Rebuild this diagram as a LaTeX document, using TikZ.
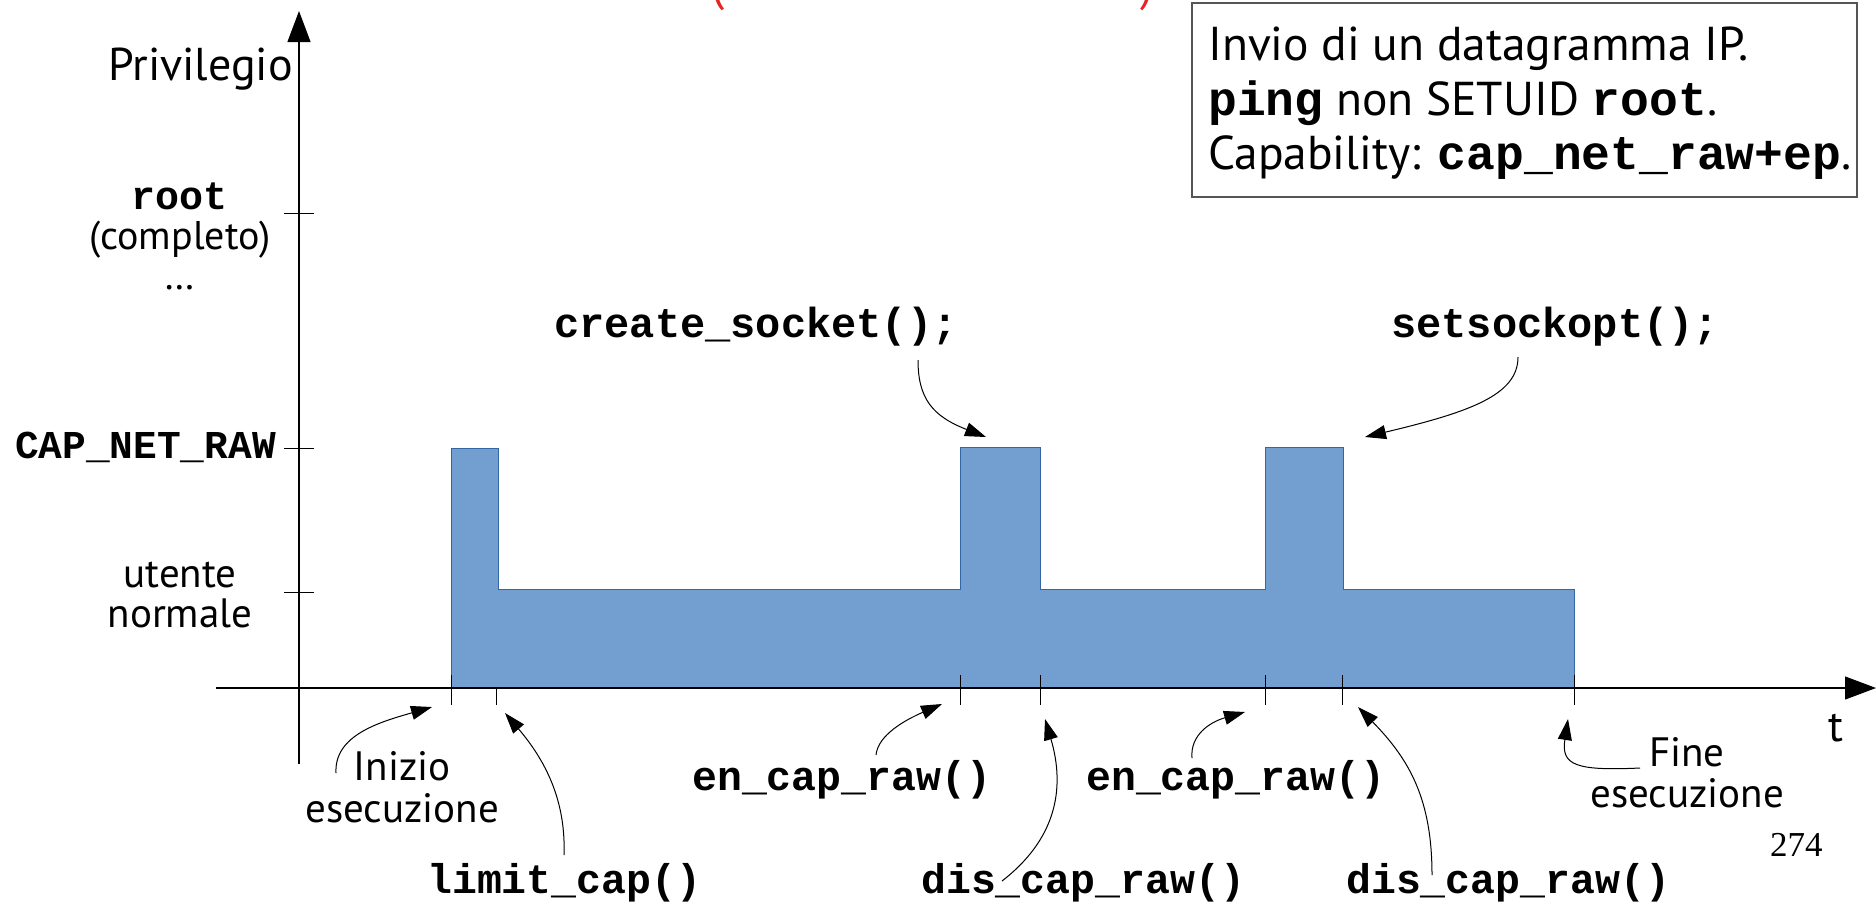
\documentclass[tikz,border=0pt]{standalone}
\usepackage{fontspec}
\usetikzlibrary{arrows.meta}
\newfontfamily\labfont{PT Sans}
\newfontfamily\codefont{Liberation Mono}
\newfontfamily\numfont{Liberation Serif}
\definecolor{barfill}{HTML}{729FCF}
\definecolor{baredge}{HTML}{3465A4}
\definecolor{boxedge}{HTML}{555555}
\definecolor{headred}{HTML}{E52521}
\newcommand{\boxcode}[1]{{\fontsize{48}{48}\codefont\bfseries #1}}
\begin{document}
\begin{tikzpicture}[x=1pt,y=-1pt,
  lab/.style={font=\fontsize{41}{41}\labfont, inner sep=0pt},
  code/.style={font=\fontsize{41.5}{41.5}\codefont\bfseries, inner sep=0pt},
  boxline/.style={font=\fontsize{47.5}{47.5}\labfont, inner sep=0pt, anchor=base west},
  callout/.style={-{Triangle[length=21pt,width=14pt]}, line width=1pt},
  axis/.style={-{Triangle[length=31pt,width=23pt]}, line width=1.2pt},
  axtick/.style={line width=1pt}]
\useasboundingbox (0,0) rectangle (1876,906);
\clip (0,0) rectangle (1876,906);

% heading above the page, only its lower part is inside
\node[anchor=base, inner sep=0pt, text=headred, font=\fontsize{47}{47}\labfont] (hl) at (718,0) {(};
\node[anchor=base, inner sep=0pt, text=headred, font=\fontsize{47}{47}\labfont] (hr) at (1147,0) {)};

% privilege profile over time
\fill[barfill, draw=baredge, line width=1pt]
  (451,688) -- (451,448) -- (498,448) -- (498,589) -- (960,589) -- (960,447)
  -- (1040,447) -- (1040,589) -- (1265,589) -- (1265,447) -- (1343,447)
  -- (1343,589) -- (1574,589) -- (1574,688) -- cycle;

% axes
\coordinate (yb) at (299,764);
\coordinate (yt) at (299,11);
\coordinate (xl) at (216,688);
\coordinate (xr) at (1876,688);
\draw[axis] (yb) -- (yt);
\draw[axis] (xl) -- (xr);

% ticks on the privilege axis
\foreach \y/\n in {213/root, 448/cap, 592/user}
  \draw[axtick] (284,\y) coordinate (ty\n) -- (314,\y);

% ticks on the time axis
\foreach \x/\n in {451/start, 960/enA, 1040/disA, 1265/enB, 1342/disB, 1574/stop}
  \draw[axtick] (\x,675) -- (\x,705) coordinate (tx\n);
\draw[axtick] (496,689) -- (496,705) coordinate (txlim);

% privilege levels
\node[lab, font=\fontsize{46}{46}\labfont, anchor=base east] (priv) at (293,80) {Privilegio};
\node[code, font=\fontsize{40}{40}\codefont\bfseries, anchor=base] (root) at (180,209) {root};
\node[lab, font=\fontsize{40}{40}\labfont, anchor=base] (compl) at (180,249) {(completo)};
\node[lab, font=\fontsize{40}{40}\labfont, anchor=base] (dots) at (180,289) {…};
\node[code, font=\fontsize{39.5}{39.5}\codefont\bfseries, anchor=base east] (capnr) at (276,458) {CAP\_NET\_RAW};
\node[lab, anchor=base] (ut1) at (180,587) {utente};
\node[lab, anchor=base] (ut2) at (180,627) {normale};
\node[lab, font=\fontsize{44}{44}\labfont, anchor=base west] (tlab) at (1828,741) {t};

% description box
\draw[boxedge, line width=1.5pt] (1192,3) rectangle (1857,197);
\node[boxline] (d1) at (1208,60) {Invio di un datagramma IP.};
\node[boxline] (d2) at (1208,115) {\boxcode{ping} non SETUID \boxcode{root}.};
\node[boxline] (d3) at (1208,169) {Capability: \boxcode{cap\_net\_raw+ep}.};

% system calls and events
\node[code, font=\fontsize{42}{42}\codefont\bfseries, anchor=base west] (sock) at (554,337) {create\_socket();};
\node[code, font=\fontsize{42}{42}\codefont\bfseries, anchor=base west] (sopt) at (1391,337) {setsockopt();};
\node[code, anchor=base west] (enA) at (692,790) {en\_cap\_raw()};
\node[code, anchor=base west] (enB) at (1086,790) {en\_cap\_raw()};
\node[code, anchor=base west] (lim) at (427,893) {limit\_cap()};
\node[code, anchor=base west] (disA) at (921,893) {dis\_cap\_raw()};
\node[code, anchor=base west] (disB) at (1346,893) {dis\_cap\_raw()};
\node[lab, anchor=base] (ini1) at (402,780) {Inizio};
\node[lab, anchor=base] (ini2) at (402,822) {esecuzione};
\node[lab, anchor=base] (fin1) at (1687,766) {Fine};
\node[lab, anchor=base] (fin2) at (1687,807) {esecuzione};
\node[inner sep=0pt, anchor=base west, font=\fontsize{35}{35}\numfont] (pg) at (1770,856) {274};

% arrow ends
\coordinate (iniT) at (336,773);   \coordinate (iniH) at (432,707);
\coordinate (limT) at (564,855);   \coordinate (limH) at (505,713);
\coordinate (sockT) at (918,360);  \coordinate (sockH) at (986,437);
\coordinate (soptT) at (1518,357); \coordinate (soptH) at (1365,437);
\coordinate (enAT) at (876,755);   \coordinate (enAH) at (942,704);
\coordinate (disAT) at (1002,881); \coordinate (disAH) at (1045,719);
\coordinate (enBT) at (1192,758);  \coordinate (enBH) at (1245,712);
\coordinate (disBT) at (1432,875); \coordinate (disBH) at (1358,707);
\coordinate (finT) at (1640,768);  \coordinate (finH) at (1568,719);

% callouts
\draw[callout] (iniT) .. controls (334,735) and (380,722) .. (iniH);
\draw[callout] (limT) .. controls (566,800) and (545,760) .. (limH);
\draw[callout] (sockT) .. controls (918,398) and (932,416) .. (sockH);
\draw[callout] (soptT) .. controls (1518,395) and (1470,412) .. (soptH);
\draw[callout] (enAT) .. controls (878,735) and (905,720) .. (enAH);
\draw[callout] (disAT) .. controls (1055,840) and (1066,790) .. (disAH);
\draw[callout] (enBT) .. controls (1190,735) and (1210,722) .. (enBH);
\draw[callout] (disBT) .. controls (1432,800) and (1410,760) .. (disBH);
\draw[callout] (finT) .. controls (1575,771) and (1561,765) .. (finH);
\end{tikzpicture}
\end{document}
